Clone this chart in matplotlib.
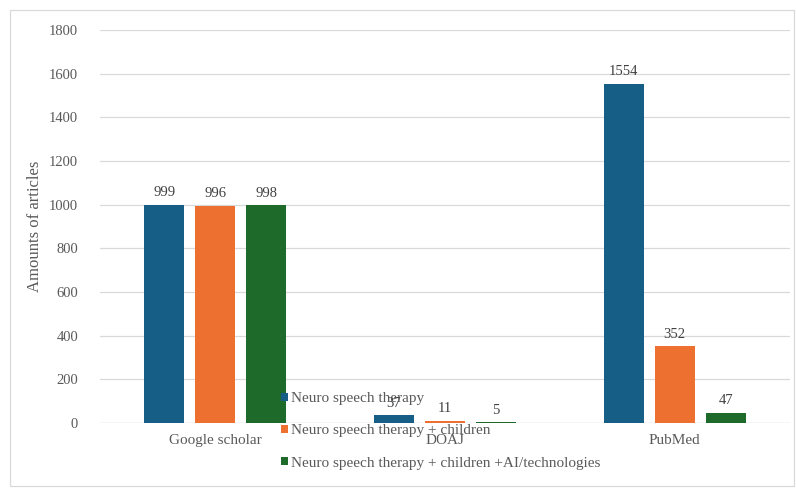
import numpy as np
import matplotlib.pyplot as plt
from matplotlib.patches import Rectangle

# -------------------------------------------------------
# DATOS
# -------------------------------------------------------
categories = ["Google scholar", "DOAJ", "PubMed"]
series_names = ["Neuro speech therapy",
                "Neuro speech therapy + children",
                "Neuro speech therapy + children +AI/technologies"]
neuro = [999, 37, 1554]
neuro_children = [996, 11, 352]
neuro_children_ai = [998, 5, 47]
y_ticks = [0, 200, 400, 600, 800, 1000, 1200, 1400, 1600, 1800]

colors = ["#175E87", "#ED7031", "#1D6A2A"]
gray = "#595959"

plt.rcParams['font.family'] = ['Liberation Serif', 'DejaVu Serif']

fig = plt.figure(figsize=(7.96, 4.92), dpi=100)
ax = fig.add_axes([0.126, 0.140, 0.866, 0.799])

x = np.arange(len(categories))
w = 0.174
step = 0.222
for i, (vals, name) in enumerate(zip([neuro, neuro_children, neuro_children_ai], series_names)):
    pos = x + (i - 1) * step
    bars = ax.bar(pos, vals, width=w, color=colors[i], label=name, zorder=3)
    for b, v in zip(bars, vals):
        ax.text(b.get_x() + b.get_width() / 2, v + 25, str(v),
                ha='center', va='bottom', fontsize=10.5, color='#404040', zorder=4)

ax.set_xlim(-0.5, 2.5)
ax.set_ylim(0, 1800)
ax.set_yticks(y_ticks)
ax.set_xticks(x)
ax.set_xticklabels(categories)
ax.tick_params(axis='y', length=0, labelsize=10.5, labelcolor=gray, pad=16)
ax.tick_params(axis='x', length=0, labelsize=11, labelcolor=gray, pad=8)
ax.grid(axis='y', color='#D9D9D9', lw=0.9, zorder=0)
for s in ax.spines.values():
    s.set_visible(False)
ax.axhline(0, color='#D9D9D9', lw=0.9, zorder=2)
ax.set_ylabel("Amounts of articles", fontsize=12, color=gray, labelpad=4)

leg = fig.legend(loc='upper left', bbox_to_anchor=(0.345, 0.215),
                 frameon=False, fontsize=11, handlelength=0.5, handleheight=0.5,
                 handletextpad=0.15, labelspacing=1.25, borderaxespad=0)
for t in leg.get_texts():
    t.set_color(gray)

fig.patches.append(Rectangle((0.013, 0.013), 0.985, 0.967, transform=fig.transFigure,
                             fill=False, edgecolor='#D9D9D9', lw=0.9))

plt.savefig("out.png", dpi=100)
